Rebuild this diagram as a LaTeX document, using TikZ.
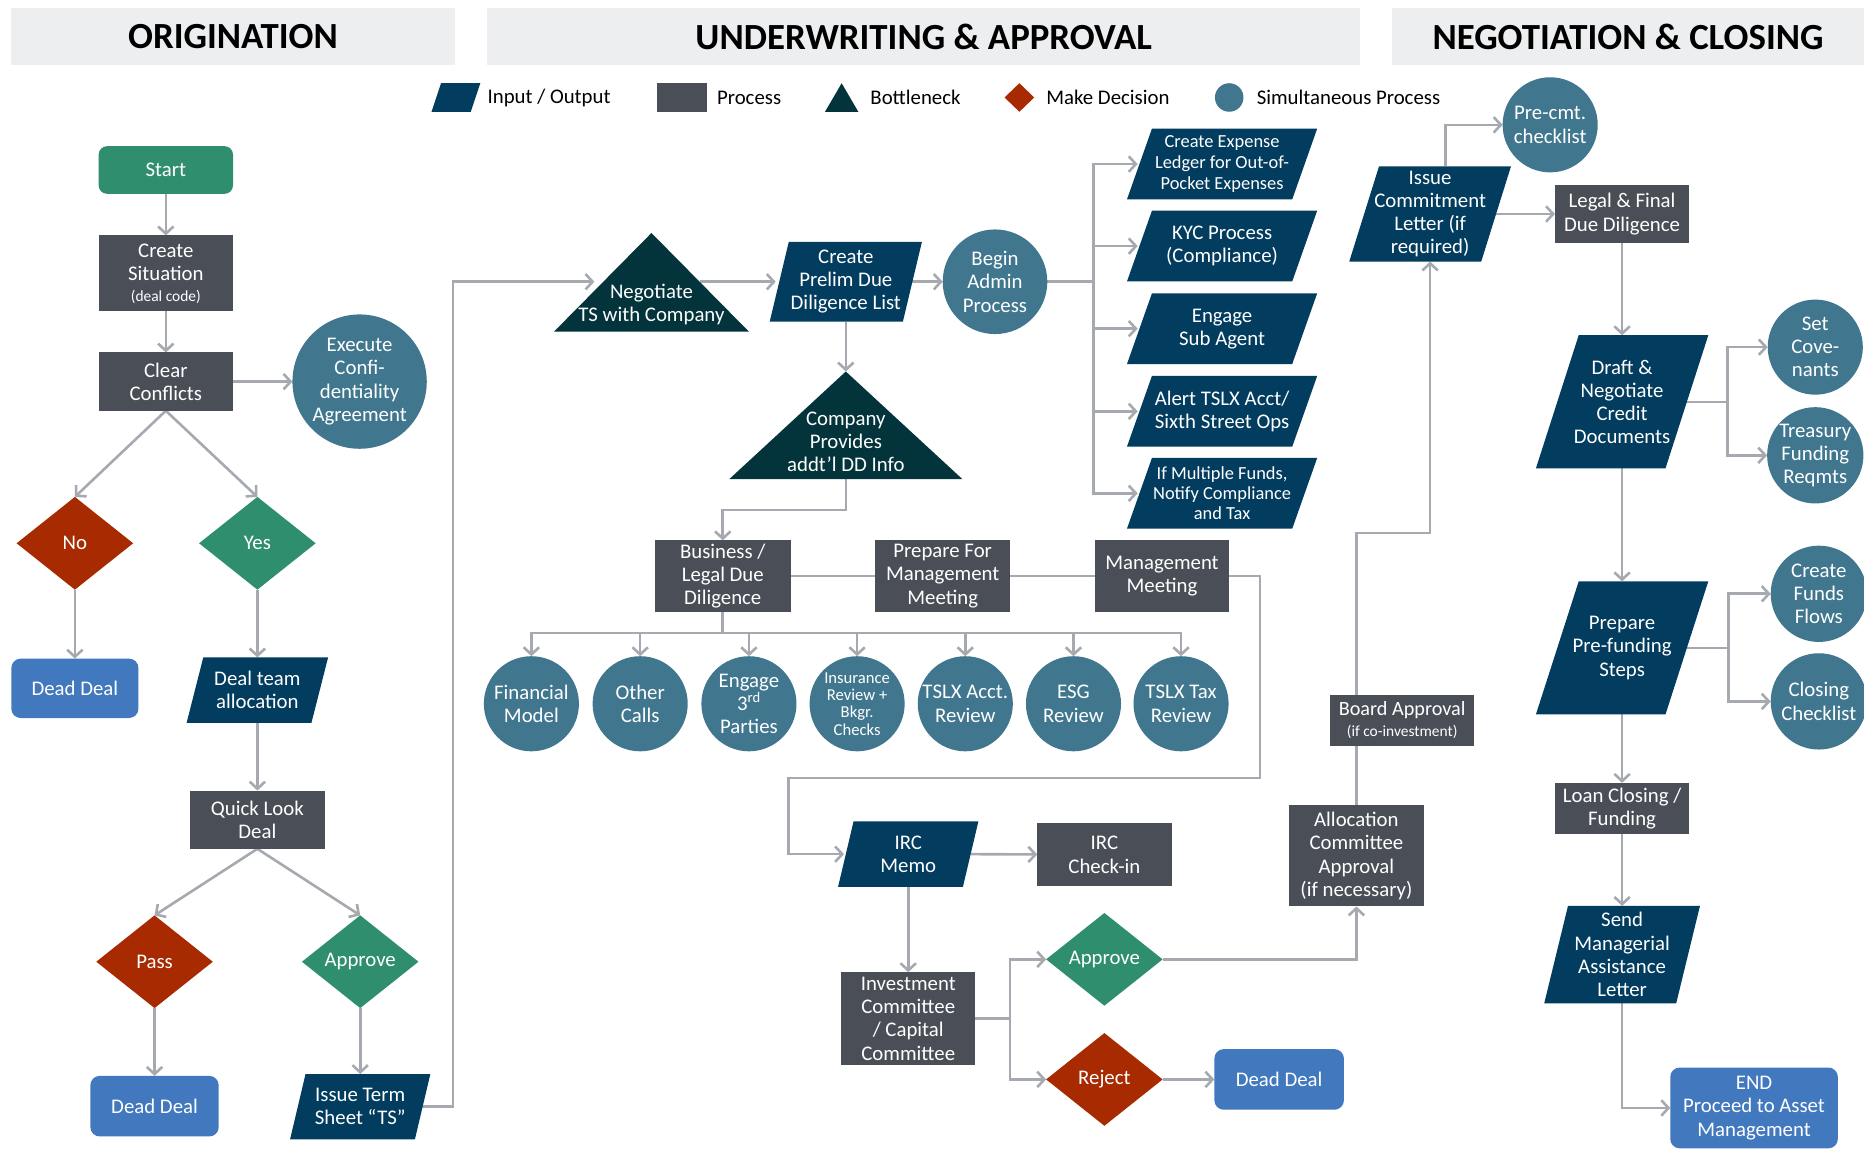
\documentclass[tikz,border=0pt]{standalone}
\usepackage{fontspec}
\setmainfont{Carlito}
\usetikzlibrary{shapes.geometric,arrows.meta}
\pgfdeclarelayer{bgwhite}
\pgfdeclarelayer{lines}
\pgfdeclarelayer{shapes}
\pgfsetlayers{bgwhite,lines,shapes,main}
\definecolor{iocol}{RGB}{2,60,94}
\definecolor{proccol}{RGB}{74,79,87}
\definecolor{botcol}{RGB}{3,52,59}
\definecolor{redcol}{RGB}{168,42,0}
\definecolor{grncol}{RGB}{47,142,110}
\definecolor{simcol}{RGB}{64,119,143}
\definecolor{deadcol}{RGB}{65,120,190}
\definecolor{linecol}{RGB}{166,170,176}
\definecolor{headcol}{RGB}{237,238,240}
\tikzset{
 base/.style={text=white, align=center, inner sep=0pt, outer sep=0pt, font=\fontsize{17.5}{19.5}\selectfont},
 proc/.style={base, rectangle, fill=proccol},
 dead/.style={base, rectangle, rounded corners=8pt, fill=deadcol},
 startbox/.style={base, rectangle, rounded corners=7pt, fill=grncol},
 sim/.style={base, circle, fill=simcol, inner sep=-4pt},
 decred/.style={base, diamond, fill=redcol, minimum width=98pt, minimum height=78pt},
 decgrn/.style={base, diamond, fill=grncol, minimum width=98pt, minimum height=78pt},
 pgtext/.style={base, rectangle},
 tritext/.style={base},
 conn/.style={draw=linecol, line width=2.2pt},
 arr/.style={conn, -{Straight Barb[length=6pt,width=13pt]}},
 headbox/.style={fill=headcol, inner sep=0pt, font=\fontsize{31}{36}\selectfont\bfseries, text=black},
 legtext/.style={font=\fontsize{17.5}{20}\selectfont, anchor=west, inner sep=0pt, text=black},
}
% parallelogram: #1 options, #2 name, #3 x, #4 y, #5 width, #6 height, #7 slant, #8 text
\newcommand\pgram[8]{%
 \node[pgtext, minimum width=#5pt, minimum height=#6pt, #1] (#2) at (#3,#4) {#8};
 \begin{pgfonlayer}{shapes}
 \fill[iocol] (#2.south west) -- ([xshift=-#7pt]#2.south east) -- (#2.north east) -- ([xshift=#7pt]#2.north west) -- cycle;
 \end{pgfonlayer}}
% triangle: #1 name, #2 x, #3 y (text centre), #4 apex up, #5 base down, #6 half base, #7 text
\newcommand\tri[7]{%
 \node[tritext] (#1) at (#2,#3) {#7};
 \begin{pgfonlayer}{shapes}
 \fill[botcol] ([shift={(-#6,#5)}]#1.center) -- ([shift={(#6,#5)}]#1.center) -- ([shift={(0,-#4)}]#1.center) -- cycle;
 \end{pgfonlayer}}
\begin{document}
\begin{tikzpicture}[x=1pt,y=-1pt]
\begin{pgfonlayer}{bgwhite}\fill[white] (0,0) rectangle (1568,967);\end{pgfonlayer}
\useasboundingbox (0,0) rectangle (1568,967);

% headers
\node[headbox, minimum width=374pt, minimum height=48pt] (horig) at (196,31) {ORIGINATION};
\node[headbox, minimum width=734pt, minimum height=48pt] (huw) at (777,31) {UNDERWRITING \& APPROVAL};
\node[headbox, minimum width=397pt, minimum height=48pt] (hneg) at (1369.5,31) {NEGOTIATION \& CLOSING};

% legend
\fill[iocol] (363,94) -- (396,94) -- (404,70) -- (371,70) -- cycle;
\node[legtext] (lio) at (410,82) {Input / Output};
\fill[proccol] (553,70) rectangle (595,94);
\node[legtext] (lproc) at (603,82) {Process};
\fill[botcol] (694,94) -- (722,94) -- (708,70) -- cycle;
\node[legtext] (lbot) at (732,82) {Bottleneck};
\fill[redcol] (857.5,70) -- (870,82) -- (857.5,94) -- (845,82) -- cycle;
\node[legtext] (ldec) at (880,82) {Make Decision};
\fill[simcol] (1034,82) circle[radius=12];
\node[legtext] (lsim) at (1057,82) {Simultaneous Process};

% ORIGINATION
\node[startbox, minimum width=113pt, minimum height=40pt] (start) at (139.5,143) {Start};
\node[proc, minimum width=113pt, minimum height=64pt] (sit) at (139.5,230) {Create\\Situation\\[-2pt]{\fontsize{13}{15}\selectfont (deal code)}};
\node[proc, minimum width=113pt, minimum height=49pt] (clear) at (139.5,321) {Clear\\Conflicts};
\node[sim, minimum size=113pt] (exec) at (302.5,321) {Execute\\Confi-\\dentiality\\Agreement};
\node[decred] (no) at (63,457) {No};
\node[decgrn] (yes) at (216.5,457) {Yes};
\node[dead, minimum width=107pt, minimum height=50pt] (dead1) at (63,579) {Dead Deal};
\pgram{}{team}{216.5}{580.5}{119}{55}{14}{Deal team\\allocation}
\node[proc, minimum width=113pt, minimum height=49pt] (quick) at (216.5,689.5) {Quick Look\\Deal};
\node[decred] (pass) at (130,809) {Pass};
\node[decgrn] (appr1) at (303,809) {Approve};
\node[dead, minimum width=108pt, minimum height=51pt] (dead2) at (130,930.5) {Dead Deal};
\pgram{}{ts}{303}{931}{118}{55}{13}{Issue Term\\Sheet “TS”}

% UNDERWRITING & APPROVAL
\tri{neg}{548}{256}{60}{23}{82}{Negotiate\\TS with Company}
\pgram{}{prelim}{711.5}{237}{128}{67}{16}{Create\\Prelim Due\\Diligence List}
\node[sim, minimum size=88pt] (admin) at (837,237) {Begin\\Admin\\Process};
\pgram{font=\fontsize{15.5}{17.5}\selectfont}{exp}{1028}{138}{160}{59.5}{21}{Create Expense\\Ledger for Out-of-\\Pocket Expenses}
\pgram{}{kyc}{1028}{207}{160}{59.5}{21}{KYC Process\\(Compliance)}
\pgram{}{sub}{1028}{276.5}{160}{59.5}{21}{Engage\\Sub Agent}
\pgram{}{alert}{1028}{346}{160}{59.5}{21}{Alert TSLX Acct/\\Sixth Street Ops}
\pgram{font=\fontsize{15.5}{17}\selectfont}{multi}{1028}{415}{160}{59.5}{21}{If Multiple Funds,\\Notify Compliance\\and Tax}
\tri{comp}{711.5}{371.5}{59}{31.5}{98}{Company\\Provides\\addt’l DD Info}
\node[proc, minimum width=114pt, minimum height=60pt] (bld) at (608,484.5) {Business /\\Legal Due\\Diligence};
\node[proc, minimum width=114pt, minimum height=60pt] (prep) at (793,484.5) {Prepare For\\Management\\Meeting};
\node[proc, minimum width=113pt, minimum height=60pt] (mgmt) at (977.5,484.5) {Management\\Meeting};
\node[sim, minimum size=80pt] (c1) at (447,592) {Financial\\Model};
\node[sim, minimum size=80pt] (c2) at (538.5,592) {Other\\Calls};
\node[sim, minimum size=80pt] (c3) at (630,592) {Engage\\3\textsuperscript{rd}\\Parties};
\node[sim, minimum size=80pt, font=\fontsize{14}{14.6}\selectfont] (c4) at (721,592) {Insurance\\Review +\\Bkgr.\\Checks};
\node[sim, minimum size=80pt] (c5) at (812,592) {TSLX Acct.\\Review};
\node[sim, minimum size=80pt] (c6) at (903,592) {ESG\\Review};
\node[sim, minimum size=80pt] (c7) at (993.5,592) {TSLX Tax\\Review};
\pgram{}{irc}{764}{718.5}{118}{55}{13}{IRC\\Memo}
\node[proc, minimum width=113pt, minimum height=53pt] (chk) at (929,719) {IRC\\Check-in};
\node[proc, minimum width=113pt, minimum height=78.5pt] (ic) at (764,857) {Investment\\Committee\\/ Capital\\Committee};
\node[decgrn] (appr2) at (929,807) {Approve};
\node[decred] (rej) at (929,908) {Reject};
\node[dead, minimum width=109pt, minimum height=51pt] (dead3) at (1076,908) {Dead Deal};
\node[proc, minimum width=114pt, minimum height=85pt] (alloc) at (1141,720) {Allocation\\Committee\\Approval\\(if necessary)};
\node[proc, minimum width=121pt, minimum height=43pt, font=\fontsize{17}{19.5}\selectfont] (board) at (1179.5,606) {Board Approval\\[-2pt]{\fontsize{13}{14}\selectfont (if co-investment)}};

% NEGOTIATION & CLOSING
\pgram{}{commit}{1203}{180}{136}{80}{25}{Issue\\Commitment\\Letter (if\\required)}
\node[sim, minimum size=80pt] (precmt) at (1304,105) {Pre-cmt.\\checklist};
\node[proc, minimum width=113pt, minimum height=49pt] (legal) at (1364.5,180) {Legal \& Final\\Due Diligence};
\pgram{}{draft}{1364.5}{338}{145}{112}{36}{Draft \&\\Negotiate\\Credit\\Documents}
\node[sim, minimum size=80pt] (cov) at (1527,292) {Set\\Cove-\\nants};
\node[sim, minimum size=81pt] (treas) at (1527,383) {Treasury\\Funding\\Reqmts};
\pgram{}{pre}{1364.5}{545}{145}{112}{36}{Prepare\\Pre-funding\\Steps}
\node[sim, minimum size=81pt] (ff) at (1530,499.5) {Create\\Funds\\Flows};
\node[sim, minimum size=81pt] (cl) at (1530,590) {Closing\\Checklist};
\node[proc, minimum width=113pt, minimum height=43pt] (loan) at (1364.5,680) {Loan Closing /\\Funding};
\pgram{}{send}{1364.5}{803}{131}{82}{20}{Send\\Managerial\\Assistance\\Letter}
\node[dead, minimum width=141pt, minimum height=68pt] (end) at (1475.5,932) {END\\Proceed to Asset\\Management};

% CONNECTORS
\begin{pgfonlayer}{lines}
\draw[arr] (start) -- (sit);
\draw[arr] (sit) -- (clear);
\draw[arr] (clear) -- (exec);
\draw[arr] (clear.south) -- (no.north);
\draw[arr] (clear.south) -- (yes.north);
\draw[arr] (no) -- (dead1);
\draw[arr] (yes) -- (team.north);
\draw[arr] (team.south) -- (quick);
\draw[arr] (quick.south) -- (pass.north);
\draw[arr] (quick.south) -- (appr1.north);
\draw[arr] (pass) -- (dead2);
\draw[arr] (appr1) -- (ts.north);
\draw[arr] ([xshift=-7pt]ts.east) -- ++(26,0) |- ([shift={(-48,-19)}]neg.center);
\draw[arr] ([shift={(41,-19)}]neg.center) -- ([xshift=5pt]prelim.west);
\draw[arr] ([xshift=-8pt]prelim.east) -- (admin);
\foreach \t in {exp,kyc,sub,alert,multi}
  \draw[arr] (admin.east) -- ++(39,0) |- ([xshift=9pt]\t.west);
\draw[arr] (prelim.south) -- ([shift={(0,-59)}]comp.center);
\draw[arr] ([shift={(0,31.5)}]comp.center) -- ++(0,26) -| (bld.north);
\draw[conn] (bld) -- (prep);
\draw[conn] (prep) -- (mgmt);
\foreach \c in {c1,c2,c3,c4,c5,c6,c7}
  \draw[arr] (bld.south) -- ++(0,18) -| (\c.north);
\coordinate (loopc) at (663.5,654.5);
\draw[arr] (mgmt.east) -- ++(26,0) |- (loopc) |- ([xshift=5pt]irc.west);
\draw[arr] ([xshift=-6pt]irc.east) -- (chk);
\draw[arr] (irc.south) -- (ic);
\draw[arr] (ic.east) -- ++(29,0) |- (appr2.west);
\draw[arr] (ic.east) -- ++(29,0) |- (rej.west);
\draw[arr] (rej) -- (dead3);
\draw[arr] (appr2.east) -| (alloc.south);
\draw[arr] (alloc.north) -- ++(0,-229) -| (commit.south);
\draw[arr] ([xshift=13pt]commit.north) |- (precmt.west);
\draw[arr] ([xshift=-12.5pt]commit.east) -- (legal.west);
\draw[arr] (legal) -- (draft.north);
\draw[arr] ([xshift=-18pt]draft.east) -- ++(34,0) |- (cov.west);
\draw[arr] ([xshift=-18pt]draft.east) -- ++(34,0) |- (treas.west);
\draw[arr] (draft.south) -- (pre.north);
\draw[arr] ([xshift=-18pt]pre.east) -- ++(35,0) |- (ff.west);
\draw[arr] ([xshift=-18pt]pre.east) -- ++(35,0) |- (cl.west);
\draw[arr] (pre.south) -- (loan);
\draw[arr] (loan) -- (send.north);
\draw[arr] (send.south) |- (end.west);
\end{pgfonlayer}
\end{tikzpicture}
\end{document}
